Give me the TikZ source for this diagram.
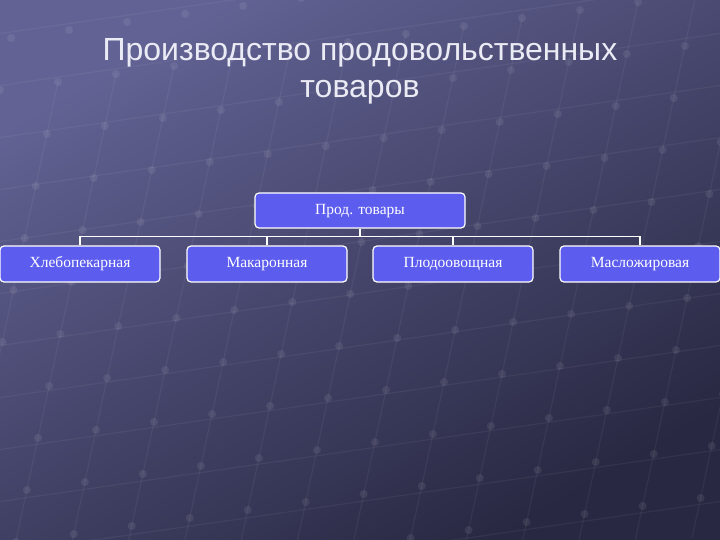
\documentclass[tikz,border=0pt]{standalone}
\usepackage{fontspec}
\usetikzlibrary{calc}
\setmainfont{Liberation Serif}
\newfontfamily\titlefont{Liberation Sans}
\definecolor{bgtop}{RGB}{98,98,148}
\definecolor{bgbot}{RGB}{40,40,66}
\definecolor{boxfill}{RGB}{92,92,238}
\definecolor{titlecol}{RGB}{235,235,245}
\begin{document}
\begin{tikzpicture}[x=1pt,y=1pt,
  orgbox/.style={draw=white,line width=1.2pt,fill=boxfill,rounded corners=4pt,
    minimum width=160pt,minimum height=36pt,inner sep=0pt,text=white,
    text height=11pt,text depth=3.5pt,
    font=\fontsize{15.5}{18}\selectfont},
  link/.style={draw=white,line width=1.8pt},
  gridline/.style={draw=white,opacity=0.05,line width=1.2pt},
  griddot/.style={fill=white,opacity=0.08}]
\useasboundingbox (0,0) rectangle (720,-540);
\shade[top color=bgtop,bottom color=bgbot,shading angle=30] (0,0) rectangle (720,-540);
% decorative perspective grid
\begin{scope}
\clip (0,0) rectangle (720,-540);
\foreach \i in {-6,...,14}{
  \draw[gridline] ($(-100,-100)+\i*(0,-52)$) -- ++(900,130);
}
\foreach \j in {-4,...,16}{
  \draw[gridline] ($(0,-90)+\j*(58,8)$) -- ++(-120,-560);
}
\foreach \i in {-6,...,14}{
  \foreach \j in {-4,...,16}{
    \fill[griddot] ($(0,-90)+\j*(58,8)+\i*(-11.14,-52)$) circle (4pt);
  }
}
\end{scope}
% title
\node[text=titlecol,font=\titlefont\fontsize{32}{37}\selectfont,align=center] (title) at (360,-71)
  {Производство продовольственных\\товаров};
% org chart
\node[orgbox,minimum width=210pt,minimum height=35pt] (root) at (360,-210.5) {Прод. товары};
\node[orgbox] (c1) at (80,-264) {Хлебопекарная};
\node[orgbox] (c2) at (267,-264) {Макаронная};
\node[orgbox] (c3) at (453,-264) {Плодоовощная};
\node[orgbox] (c4) at (640,-264) {Масложировая};
\coordinate (bar) at (360,-236.5);
\draw[link] (root.south) -- (bar);
\draw[link] (c1.north) |- (bar) -| (c4.north);
\draw[link] (c2.north) -- (c2.north |- bar);
\draw[link] (c3.north) -- (c3.north |- bar);
\end{tikzpicture}
\end{document}
